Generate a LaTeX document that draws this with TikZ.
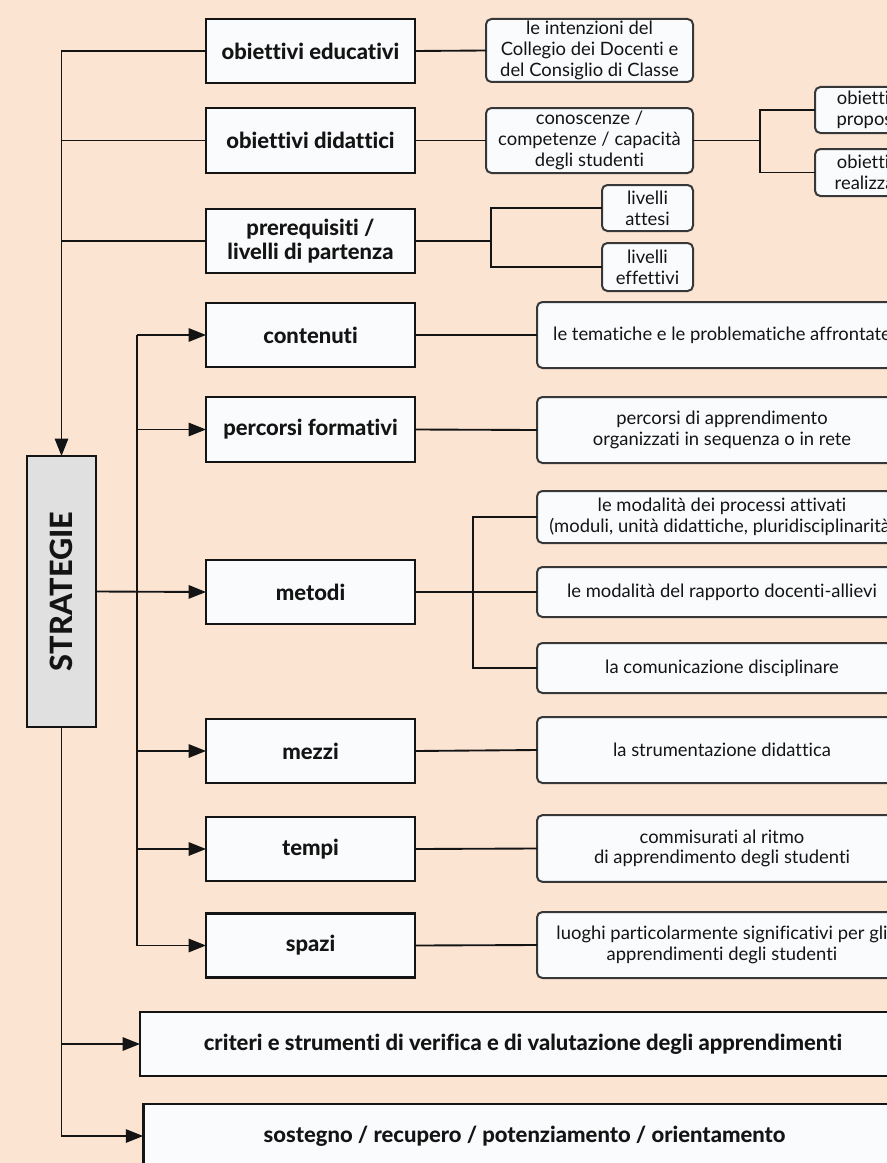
\documentclass[tikz,border=0pt]{standalone}
\usepackage{fontspec}
\setmainfont{Lato}[Ligatures={NoCommon,NoContextual}]
\newfontfamily\heavy{Lato Heavy}[Ligatures={NoCommon,NoContextual}]
\usetikzlibrary{arrows.meta,calc}
\definecolor{bg}{RGB}{252,228,211}
\definecolor{boxfill}{RGB}{250,251,252}
\definecolor{strfill}{RGB}{224,224,224}
\definecolor{ink}{RGB}{20,20,20}
\begin{document}
\begin{tikzpicture}[x=0.75pt,y=-0.75pt,
  conn/.style={line width=1.4pt, draw=ink},
  arr/.style={conn, -{Triangle[length=13pt,width=10pt]}},
  keybox/.style={draw=ink, line width=2.1pt, fill=boxfill, inner sep=0pt, outer sep=0pt,
     minimum width=156.75pt, minimum height=48pt, align=center, text=ink,
     font=\fontsize{16.5}{18.5}\selectfont\heavy},
  descbox/.style={draw=ink!85, line width=1.5pt, fill=boxfill, rounded corners=4pt,
     inner sep=0pt, outer sep=0pt, align=center, text=ink,
     font=\fontsize{13.8}{15.5}\selectfont},
  widebox/.style={descbox, minimum width=277.5pt},
  bigbox/.style={keybox, minimum width=574.5pt}
]
\useasboundingbox (0,0) rectangle (887,1163);
\fill[bg] (0,0) rectangle (887,1163);
\clip (0,0) rectangle (887,1163);

% left key boxes
\node[keybox] (obed) at (310.5,51) {obiettivi educativi};
\node[keybox, minimum height=48.75pt] (obdid) at (310.5,140.5) {obiettivi didattici};
\node[keybox] (prereq) at (310.5,241) {prerequisiti /\\livelli di partenza};
\node[keybox] (conten) at (310.5,335) {contenuti};
\node[keybox, minimum height=48.75pt] (percf) at (310.5,429.5) {percorsi formativi};
\node[keybox] (metodi) at (310.5,592) {metodi};
\node[keybox] (mezzi) at (310.5,751) {mezzi};
\node[keybox] (tempi) at (310.5,849) {tempi};
\node[keybox] (spazi) at (310.5,945.5) {spazi};

% STRATEGIE
\node[draw=ink, line width=2.1pt, fill=strfill, inner sep=0pt, outer sep=0pt,
      minimum width=51.75pt, minimum height=203.25pt] (strat) at (61.5,591.5) {};
\node[rotate=90, text=ink, font=\fontsize{23}{26}\selectfont\heavy] (stratlab) at (strat.center) {STRATEGIE};

% bottom wide boxes
\node[bigbox] (criteri) at (523,1044) {criteri e strumenti di verifica e di valutazione degli apprendimenti};
\node[bigbox, minimum width=572pt] (sostegno) at (524.5,1136) {sostegno / recupero / potenziamento / orientamento};

% middle description boxes
\node[descbox, minimum width=155.25pt, minimum height=47.25pt] (intenz) at (589.5,50.5)
  {le intenzioni del\\Collegio dei Docenti e\\del Consiglio di Classe};
\node[descbox, minimum width=155.25pt, minimum height=48.75pt] (conosc) at (589.5,140.5)
  {conoscenze /\\competenze / capacità\\degli studenti};
\node[descbox, minimum width=68.25pt, minimum height=34.5pt] (attesi) at (647.5,208) {livelli\\attesi};
\node[descbox, minimum width=68.25pt, minimum height=36pt] (effett) at (647.5,267) {livelli\\effettivi};
\node[descbox, minimum width=82.5pt, minimum height=34.5pt] (propos) at (870,110) {obiettivi\\proposti};
\node[descbox, minimum width=82.5pt, minimum height=35.25pt] (realiz) at (870,172.5) {obiettivi\\realizzati};

% right description boxes
\node[widebox, minimum height=49.5pt] (temat) at (722,335) {le tematiche e le problematiche affrontate};
\node[widebox, minimum height=49.5pt] (appren) at (722,430) {percorsi di apprendimento\\organizzati in sequenza o in rete};
\node[widebox, minimum height=39pt] (proces) at (722,517) {le modalità dei processi attivati\\(moduli, unità didattiche, pluridisciplinarità)};
\node[widebox, minimum height=37.5pt] (rappor) at (722,592) {le modalità del rapporto docenti-allievi};
\node[widebox, minimum height=37.5pt] (comuni) at (722,668) {la comunicazione disciplinare};
\node[widebox, minimum height=49.5pt] (strum) at (722,750) {la strumentazione didattica};
\node[widebox, minimum height=50pt] (commis) at (722,848.5) {commisurati al ritmo\\di apprendimento degli studenti};
\node[widebox, minimum height=49.5pt] (luoghi) at (722,945) {luoghi particolarmente significativi per gli\\apprendimenti degli studenti};

% junction coordinates
\coordinate (busL) at (61,0);
\coordinate (busM) at (137,0);
\coordinate (sp1) at (760,140.5);
\coordinate (sp2) at (491,241);
\coordinate (sp3) at (473,592);

% left trunk into STRATEGIE
\draw[arr] (obed.west) -| (strat.north);
\draw[conn] (obdid.west) -- (obdid.west -| busL);
\draw[conn] (prereq.west) -- (prereq.west -| busL);

% STRATEGIE outputs
\draw[arr] (strat.east) -- (metodi.west);
\draw[conn] (conten.west -| busM) -- (spazi.west -| busM);
\foreach \n in {conten,percf,mezzi,tempi,spazi}
  \draw[arr] (\n.west -| busM) -- (\n.west);
\draw[arr] (strat.south) |- (criteri.west);
\draw[arr] (strat.south) |- (sostegno.west);

% right-side connections
\draw[conn] (obed.east) -- (intenz.west);
\draw[conn] (obdid.east) -- (conosc.west);
\draw[conn] (conosc.east) -- (sp1);
\draw[conn] (propos.west) -| (sp1) |- (realiz.west);
\draw[conn] (prereq.east) -- (sp2);
\draw[conn] (attesi.west) -| (sp2) |- (effett.west);
\draw[conn] (conten.east) -- (temat.west);
\draw[conn] (percf.east) -- (appren.west);
\draw[conn] (metodi.east) -- (rappor.west);
\draw[conn] (proces.west) -| (sp3) |- (comuni.west);
\draw[conn] (mezzi.east) -- (strum.west);
\draw[conn] (tempi.east) -- (commis.west);
\draw[conn] (spazi.east) -- (luoghi.west);
\end{tikzpicture}
\end{document}
